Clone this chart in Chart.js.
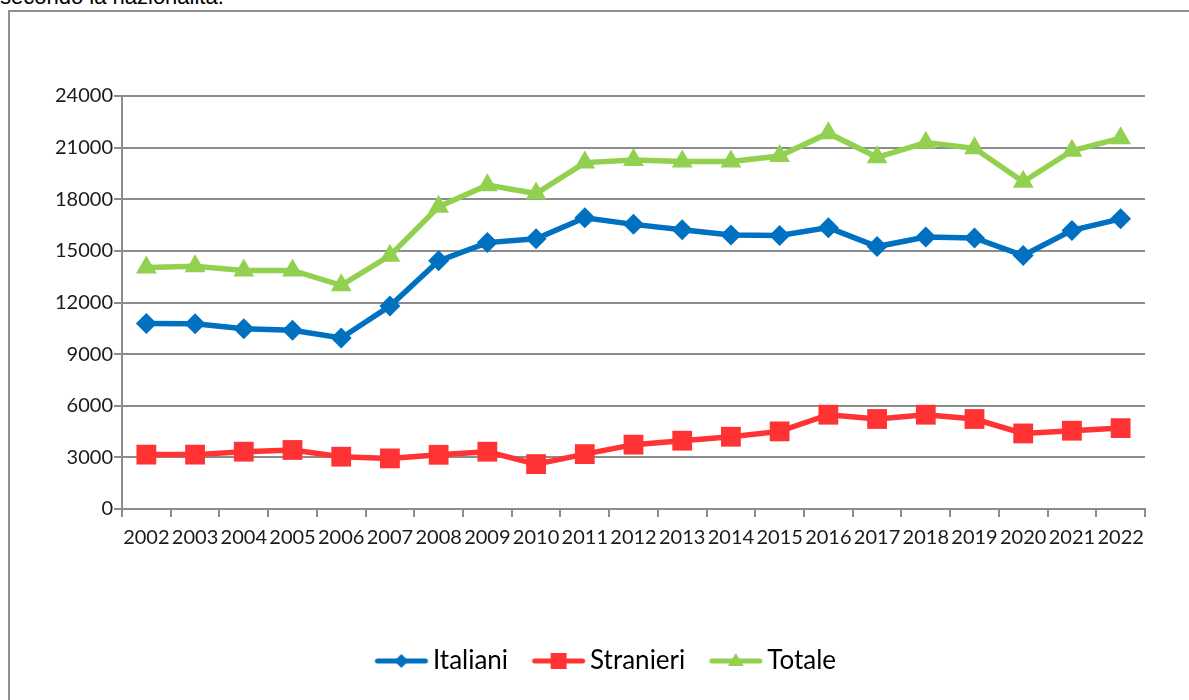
<!DOCTYPE html>
<html>
<head>
<meta charset="utf-8">
<script src="https://cdn.jsdelivr.net/npm/chart.js@4/dist/chart.umd.min.js"></script>
<style>
  html, body { margin: 0; padding: 0; background: #fff; }
  body { width: 1189px; height: 700px; position: relative; overflow: hidden; }
  #title { position: absolute; left: 0; top: -14px; font: 22px/22px "Liberation Sans", Arial, sans-serif; color: #000; white-space: nowrap; }
  #frame { position: absolute; left: 8px; top: 10px; width: 1200px; height: 720px; border: 2px solid #8f8f8f; box-sizing: border-box; }
  #myChart { position: absolute; left: 0; top: 0; }
</style>
</head>
<body>
<div id="title">secondo la nazionalità.</div>
<div id="frame"></div>
<canvas id="myChart" width="1189" height="700"></canvas>
<script>
  // data
  const years = ['2002', '2003', '2004', '2005', '2006', '2007', '2008', '2009', '2010', '2011', '2012',
    '2013', '2014', '2015', '2016', '2017', '2018', '2019', '2020', '2021', '2022']
  const italiani = [10780, 10770, 10470, 10390, 9940, 11790, 14420, 15480, 15700, 16920, 16540,
    16230, 15920, 15900, 16350, 15250, 15800, 15750, 14730, 16190, 16860]
  const stranieri = [3160, 3160, 3330, 3430, 3040, 2940, 3150, 3330, 2610, 3190, 3740,
    3970, 4200, 4510, 5480, 5230, 5480, 5230, 4390, 4550, 4700]
  const totale = [14030, 14100, 13860, 13860, 13000, 14720, 17560, 18820, 18330, 20130, 20280,
    20200, 20200, 20510, 21840, 20440, 21290, 20960, 19020, 20820, 21550]
  const yTicks = [0, 3000, 6000, 9000, 12000, 15000, 18000, 21000, 24000]

  const BLUE = '#0070c0'
  const RED = '#ff3333'
  const GREEN = '#92d050'
  const GRID = '#8c8c8c'
  const FONT = 'Lato, sans-serif'

  // legend symbol: short line with the marker in the middle
  function legendIcon(color, style) {
    const c = document.createElement('canvas')
    c.width = 56
    c.height = 24
    const g = c.getContext('2d')
    g.strokeStyle = color
    g.fillStyle = color
    g.lineWidth = 5
    g.lineCap = 'round'
    g.beginPath()
    g.moveTo(4, 12)
    g.lineTo(52, 12)
    g.stroke()
    g.beginPath()
    if (style === 'rectRot') {
      g.moveTo(28, 5); g.lineTo(35, 12); g.lineTo(28, 19); g.lineTo(21, 12)
    } else if (style === 'rect') {
      g.rect(20, 4, 16, 16)
    } else {
      g.moveTo(28, 4); g.lineTo(36, 17); g.lineTo(20, 17)
    }
    g.closePath()
    g.fill()
    return c
  }

  // the legend in the reference sits a bit right of the canvas centre
  const shiftLegend = {
    id: 'shiftLegend',
    afterLayout(chart) {
      chart.legend.left += 37
      chart.legend.right += 37
    }
  }

  const ctx = document.getElementById('myChart')
  const series = [
    { label: 'Italiani', data: italiani, color: BLUE, style: 'rectRot', r: 10.5 },
    { label: 'Stranieri', data: stranieri, color: RED, style: 'rect', r: 14 },
    { label: 'Totale', data: totale, color: GREEN, style: 'triangle', r: 12 }
  ]

  // eslint-disable-next-line no-unused-vars
  const myChart = new Chart(ctx, {
    type: 'line',
    data: {
      labels: years,
      datasets: series.map(s => ({
        label: s.label,
        data: s.data,
        borderColor: s.color,
        backgroundColor: s.color,
        borderWidth: 5.5,
        lineTension: 0,
        pointStyle: s.style,
        pointRadius: s.r,
        pointHoverRadius: s.r,
        pointBorderWidth: 0,
        pointBackgroundColor: s.color
      }))
    },
    options: {
      responsive: false,
      animation: false,
      layout: { padding: { top: 96, right: 44, left: 0, bottom: 16 } },
      scales: {
        x: {
          offset: true,
          grid: { offset: true, drawOnChartArea: false, drawTicks: true, tickLength: 8, color: GRID, lineWidth: 2 },
          border: { display: true, color: GRID, width: 2 },
          ticks: { color: '#1a1a1a', font: { family: FONT, size: 20 }, padding: 9, maxRotation: 0, autoSkip: false },
          afterFit: (scale) => { scale.height = 107 }
        },
        y: {
          min: 0,
          max: 24000,
          afterBuildTicks: (scale) => { scale.ticks = yTicks.map(v => ({ value: v })) },
          grid: { color: GRID, lineWidth: 2, tickLength: 8 },
          border: { display: true, color: GRID, width: 2 },
          ticks: { color: '#1a1a1a', font: { family: FONT, size: 20 }, padding: 1, callback: (v) => String(v) },
          afterFit: (scale) => { scale.width = 122 }
        }
      },
      plugins: {
        tooltip: { enabled: false },
        legend: {
          position: 'bottom',
          labels: {
            font: { family: FONT, size: 26 },
            color: '#1a1a1a',
            padding: 32,
            usePointStyle: true,
            pointStyleWidth: 37,
            generateLabels: () => series.map((s, i) => ({
              text: s.label,
              fillStyle: s.color,
              strokeStyle: s.color,
              lineWidth: 0,
              hidden: false,
              datasetIndex: i,
              pointStyle: legendIcon(s.color, s.style)
            }))
          }
        }
      }
    },
    plugins: [shiftLegend]
  })
</script>
</body>
</html>
